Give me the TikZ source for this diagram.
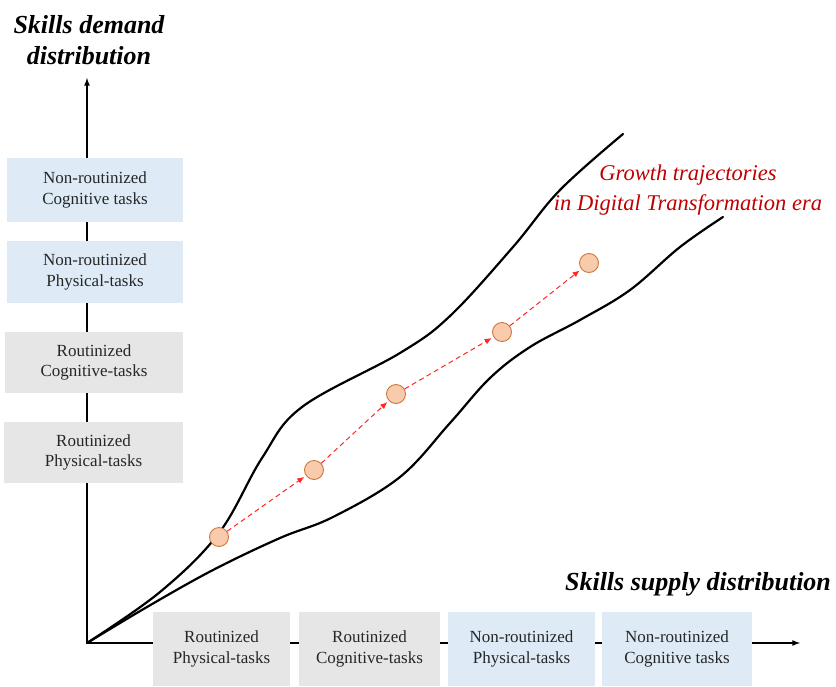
\documentclass[tikz,border=0pt]{standalone}
\usepackage{fontspec}
\setmainfont{Liberation Serif}
\usepackage{tikz}
\usetikzlibrary{arrows,arrows.meta,positioning}

\definecolor{routgray}{RGB}{231,230,230}
\definecolor{nrblue}{RGB}{222,235,247}
\definecolor{stagefill}{RGB}{248,203,173}
\definecolor{stageline}{RGB}{206,120,60}
\definecolor{darkred}{RGB}{192,0,0}

\tikzset{
  taskbox/.style={inner sep=0pt, align=center, text=black!85, font=\fontsize{17}{20.5}\selectfont},
  routine/.style={taskbox, fill=routgray},
  nonroutine/.style={taskbox, fill=nrblue},
  stage/.style={circle, draw=stageline, fill=stagefill, line width=0.9pt, minimum size=19pt, inner sep=0pt},
  traj/.style={-{Latex[length=7pt,width=6pt]}, red!85, line width=1pt, dash pattern=on 5pt off 3.5pt, shorten >=2pt},
  band/.style={line width=2.2pt, line cap=round},
  axis/.style={-latex, line width=1.6pt},
  axislabel/.style={font=\fontsize{26}{31}\selectfont\bfseries\itshape, align=center}
}

\begin{document}
\begin{tikzpicture}[x=1pt,y=-1pt]
  \useasboundingbox (0,0) rectangle (836,686);

  \coordinate (o) at (87,643);
  \coordinate (ytip) at (87,78);
  \coordinate (xtip) at (800,643);
  \draw[axis] (o) -- (ytip);
  \draw[axis] (o) -- (xtip);

  \node[axislabel] (ylab) at (89,40) {Skills demand\\distribution};
  \node[axislabel] (xlab) at (698,584) {Skills supply distribution};

  \node[nonroutine, minimum width=176, minimum height=64] (ncog) at (95,190) {Non-routinized\\Cognitive tasks};
  \node[nonroutine, minimum width=176, minimum height=62] (nphys) at (95,272) {Non-routinized\\Physical-tasks};
  \node[routine, minimum width=178, minimum height=61] (rcog) at (94,362.5) {Routinized\\Cognitive-tasks};
  \node[routine, minimum width=179, minimum height=61] (rphys) at (93.5,452.5) {Routinized\\Physical-tasks};

  \node[routine, minimum width=137, minimum height=74] (xrphys) at (221.5,649) {Routinized\\Physical-tasks};
  \node[routine, minimum width=141, minimum height=74] (xrcog) at (369.5,649) {Routinized\\Cognitive-tasks};
  \node[nonroutine, minimum width=147, minimum height=74] (xnphys) at (521.5,649) {Non-routinized\\Physical-tasks};
  \node[nonroutine, minimum width=150, minimum height=74] (xncog) at (677,649) {Non-routinized\\Cognitive tasks};

  \draw[band] plot[smooth, tension=0.6] coordinates {(87,643) (160,592) (219,533) (262,458) (302,407) (400,353) (450,316) (513,247) (560,190) (623,134)};
  \draw[band] plot[smooth, tension=0.6] coordinates {(87,643) (147,607) (213,570) (280,538) (333,517) (400,477) (450,423) (490,378) (530,347) (580,320) (630,290) (680,247) (723,217)};

  \node[stage] (s1) at (219,537) {};
  \node[stage] (s2) at (314,470) {};
  \node[stage] (s3) at (396,394) {};
  \node[stage] (s4) at (502,332) {};
  \node[stage] (s5) at (589,263) {};
  \draw[traj] (s1) -- (s2);
  \draw[traj] (s2) -- (s3);
  \draw[traj] (s3) -- (s4);
  \draw[traj] (s4) -- (s5);

  \node[darkred, align=center, font=\fontsize{22.5}{30}\selectfont\itshape] (growth) at (688,190) {Growth trajectories\\in Digital Transformation era};
\end{tikzpicture}
\end{document}
